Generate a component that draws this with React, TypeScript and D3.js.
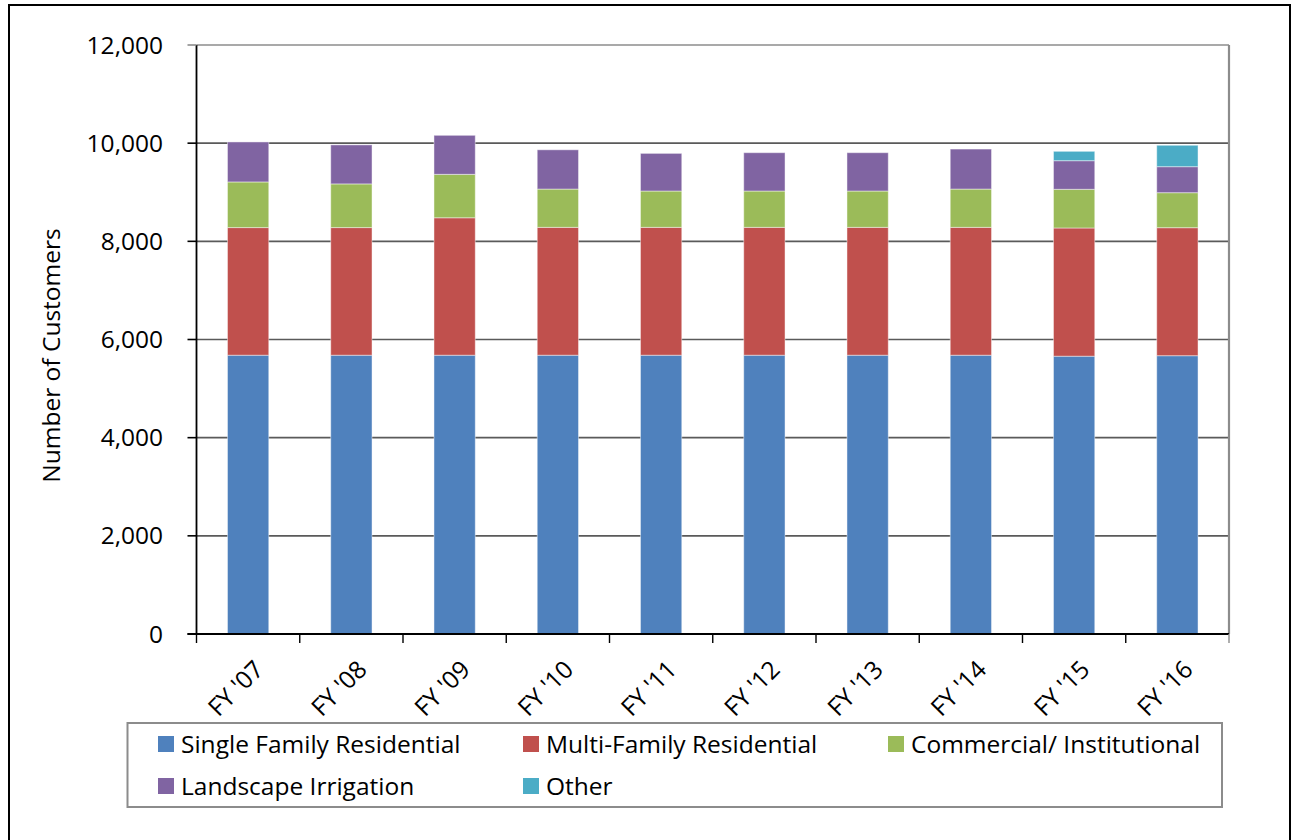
import React from "react";
import * as d3 from "d3";

const categories = ["FY '07", "FY '08", "FY '09", "FY '10", "FY '11", "FY '12", "FY '13", "FY '14", "FY '15", "FY '16"];
const singleFamily = [5680, 5680, 5680, 5680, 5680, 5680, 5680, 5680, 5660, 5670];
const multiFamily = [2600, 2600, 2800, 2605, 2605, 2605, 2605, 2605, 2612, 2608];
const commercial = [930, 890, 885, 780, 740, 740, 740, 780, 788, 713];
const landscape = [815, 795, 795, 800, 767, 781, 781, 815, 583, 530];
const other = [0, 0, 0, 0, 0, 0, 0, 0, 191, 436];
const seriesNames = ["Single Family Residential", "Multi-Family Residential", "Commercial/ Institutional", "Landscape Irrigation", "Other"];
const seriesColors = ["#4F81BD", "#C0504D", "#9BBB59", "#8064A2", "#4BACC6"];
const yTicks = [0, 2000, 4000, 6000, 8000, 10000, 12000];

const FONT = "'Open Sans', sans-serif";
const FS = 24.5;

export default function App() {
  const W = 1294, H = 840;
  const left = 196.5, right = 1229, top = 45, bottom = 634;
  const x = d3.scaleBand<string>().domain(categories).range([left, right]).padding(0);
  const y = d3.scaleLinear().domain([0, 12000]).range([bottom, top]);
  const fmt = d3.format(",");

  const rows = categories.map((c, i) => ({
    cat: c,
    s0: singleFamily[i], s1: multiFamily[i], s2: commercial[i], s3: landscape[i], s4: other[i],
  }));
  const stack = d3.stack<any>().keys(["s0", "s1", "s2", "s3", "s4"]);
  const stacked = stack(rows);
  const bw = x.bandwidth() * 0.4;

  const legendItems = [
    { name: seriesNames[0], color: seriesColors[0], x: 158, y: 736 },
    { name: seriesNames[1], color: seriesColors[1], x: 523, y: 736 },
    { name: seriesNames[2], color: seriesColors[2], x: 888, y: 736 },
    { name: seriesNames[3], color: seriesColors[3], x: 158, y: 778 },
    { name: seriesNames[4], color: seriesColors[4], x: 523, y: 778 },
  ];

  return (
    <svg width={W} height={H} style={{ position: "absolute", left: 0, top: 0, background: "#fff" }} fontFamily={FONT}>
      <rect x={0} y={0} width={W} height={H} fill="#fff" />
      {/* outer frame */}
      <rect x={9} y={5} width={1281} height={850} fill="none" stroke="#000" strokeWidth={2} />

      {/* gridlines */}
      {yTicks.map((t) => (
        <line key={"g" + t} x1={left} x2={right} y1={y(t)} y2={y(t)} stroke={t === 12000 ? "#8c8c8c" : "#5a5a5a"} strokeWidth={1.6} />
      ))}
      {/* right plot border */}
      <line x1={right} x2={right} y1={top} y2={bottom} stroke="#8c8c8c" strokeWidth={2.2} />

      {/* bars */}
      {stacked.map((layer, si) => (
        <g key={"s" + si} fill={seriesColors[si]}>
          {layer.map((d, i) => {
            const h = y(d[0]) - y(d[1]);
            if (h <= 0) return null;
            const cx = (x(categories[i]) as number) + x.bandwidth() / 2;
            return (
              <rect key={i} x={cx - bw / 2} y={y(d[1])} width={bw} height={h}
                stroke="#ffffff" strokeOpacity={0.45} strokeWidth={1} />
            );
          })}
        </g>
      ))}

      {/* axes */}
      <line x1={left} x2={left} y1={top} y2={bottom} stroke="#000" strokeWidth={1.8} />
      <line x1={left - 9} x2={right} y1={bottom} y2={bottom} stroke="#000" strokeWidth={1.8} />
      {yTicks.map((t) => (
        <line key={"yt" + t} x1={left - 9} x2={left} y1={y(t)} y2={y(t)} stroke={t === 12000 ? "#8c8c8c" : "#000"} strokeWidth={1.6} />
      ))}
      {categories.map((c, i) => (
        <line key={"xt" + i} x1={x(c) as number} x2={x(c) as number} y1={bottom} y2={bottom + 9} stroke="#000" strokeWidth={1.4} />
      ))}
      <line x1={right} x2={right} y1={bottom} y2={bottom + 9} stroke="#8c8c8c" strokeWidth={1.4} />

      {/* y tick labels */}
      {yTicks.map((t) => (
        <text key={"yl" + t} x={163} y={y(t)} dy="0.35em" textAnchor="end" fontSize={FS} fill="#000">
          {fmt(t)}
        </text>
      ))}

      {/* y title */}
      <text transform={`translate(60,${(top + bottom) / 2 + 16}) rotate(-90)`} textAnchor="middle" fontSize={FS} fill="#000">
        Number of Customers
      </text>

      {/* x labels */}
      {categories.map((c) => {
        const cx = (x(c) as number) + x.bandwidth() / 2;
        return (
          <text key={"xl" + c} transform={`translate(${cx + 17},${bottom + 37}) rotate(-45)`} textAnchor="end" fontSize={FS} fill="#000">
            {c}
          </text>
        );
      })}

      {/* legend */}
      <rect x={127.5} y={723} width={1094.5} height={84} fill="#fff" stroke="#8c8c8c" strokeWidth={2} />
      {legendItems.map((it) => (
        <g key={it.name}>
          <rect x={it.x} y={it.y} width={16} height={16} fill={it.color} />
          <text x={it.x + 23} y={it.y + 8} dy="0.35em" fontSize={FS} fill="#000">{it.name}</text>
        </g>
      ))}
    </svg>
  );
}
